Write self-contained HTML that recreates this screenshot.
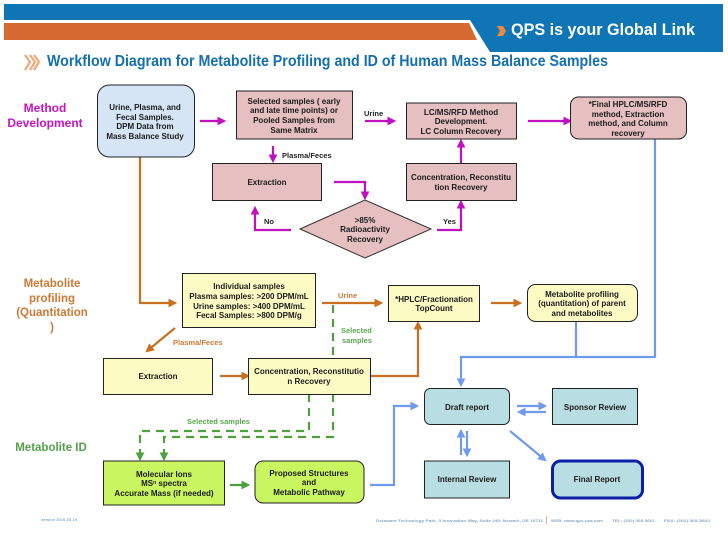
<!DOCTYPE html>
<html><head><meta charset="utf-8"><style>
html,body{margin:0;padding:0;background:#fff}
svg{display:block}
text{font-family:"Liberation Sans",sans-serif}
.n{font-size:8px;font-weight:bold;fill:#1a1a1a;text-anchor:middle}
</style></head><body>
<svg width="728" height="546" viewBox="0 0 728 546" xmlns="http://www.w3.org/2000/svg">
<defs>
<marker id="m" markerWidth="4" markerHeight="4" refX="3" refY="2" orient="auto"><path d="M0 0L4 2L0 4Z" fill="#c010c0"/></marker>
<marker id="o" markerWidth="4" markerHeight="4" refX="3" refY="2" orient="auto"><path d="M0 0L4 2L0 4Z" fill="#c8701f"/></marker>
<marker id="g" markerWidth="4" markerHeight="4" refX="3" refY="2" orient="auto"><path d="M0 0L4 2L0 4Z" fill="#4f9f3f"/></marker>
<marker id="b" markerWidth="4" markerHeight="4" refX="3" refY="2" orient="auto"><path d="M0 0L4 2L0 4Z" fill="#6f9bec"/></marker>
</defs>
<!-- header -->
<path d="M4 4H723V52H490L470 20H4Z" fill="#0f75b5"/>
<path d="M4 23H469L477 40H4Z" fill="#d46a32"/>
<path d="M497 26L503 26L506 31L503 36L497 36L500 31Z" fill="#ee8a3c"/>
<text x="511" y="35" font-size="16.500" font-weight="bold" fill="#fff" textLength="184" lengthAdjust="spacingAndGlyphs">QPS is your Global Link</text>
<path d="M25 55L30 62L25 70M30 55L35 62L30 70M34 55L39 62L34 70" fill="none" stroke="#f0a878" stroke-width="2.2"/>
<text x="47" y="66" font-size="15.500" font-weight="bold" fill="#1470ad" textLength="561" lengthAdjust="spacingAndGlyphs">Workflow Diagram for Metabolite Profiling and ID of Human Mass Balance Samples</text>
<!-- side labels -->
<g font-weight="bold" text-anchor="middle">
<text x="45" y="112" font-size="12" fill="#c414c4">Method</text>
<text x="45" y="127" font-size="12" fill="#c414c4">Development</text>
<text x="52" y="287" font-size="11.5" fill="#cc7a35">Metabolite</text>
<text x="52" y="302" font-size="11.5" fill="#cc7a35">profiling</text>
<text x="52" y="316" font-size="11.5" fill="#cc7a35">(Quantitation</text>
<text x="52" y="331" font-size="11.5" fill="#cc7a35">)</text>
<text x="51" y="451" font-size="11.5" fill="#54a24a">Metabolite ID</text>
</g>
<!-- connectors -->
<g fill="none" stroke-width="2.2">
<g stroke="#c010c0">
<path d="M200 121H224" marker-end="url(#m)"/>
<path d="M273 146V161" marker-end="url(#m)"/>
<path d="M365 121H394" marker-end="url(#m)"/>
<path d="M461 163V141" marker-end="url(#m)"/>
<path d="M528 121H570" marker-end="url(#m)"/>
<path d="M334 182H365V198" marker-end="url(#m)"/>
<path d="M291 230H255V208" marker-end="url(#m)"/>
<path d="M437 230H461V202" marker-end="url(#m)"/>
</g>
<g stroke="#c8701f">
<path d="M140 157V303H175" marker-end="url(#o)"/>
<path d="M322 303H381" marker-end="url(#o)"/>
<path d="M491 303H520" marker-end="url(#o)"/>
<path d="M175 328L147 351" marker-end="url(#o)"/>
<path d="M220 376H248" marker-end="url(#o)"/>
<path d="M371 376H418V323" marker-end="url(#o)"/>
</g>
<g stroke="#4f9f3f">
<path d="M333 305V358" stroke-dasharray="8 6"/>
<path d="M333 394V437H164V450" stroke-dasharray="8 6"/>
<path d="M309 394V431H140V450" stroke-dasharray="8 6"/>
<path d="M140 450V459" marker-end="url(#g)"/>
<path d="M164 450V459" marker-end="url(#g)"/>
<path d="M230 485H248" marker-end="url(#g)"/>
</g>
<g stroke="#6f9bec">
<path d="M655 139V357H461V385" marker-end="url(#b)"/>
<path d="M576 322V357"/>
<path d="M370 485H394V406H417" marker-end="url(#b)"/>
<path d="M517 406H545" marker-end="url(#b)"/>
<path d="M546 412H519" marker-end="url(#b)"/>
<path d="M461 455V431" marker-end="url(#b)"/>
<path d="M467 431V455" marker-end="url(#b)"/>
<path d="M510 431L545 460" marker-end="url(#b)"/>
</g>
</g>
<!-- nodes -->
<g stroke="#222" stroke-width="1">
<rect x="97.500" y="85" width="97" height="72" rx="12" fill="#d5e5f6"/>
<g fill="#e6bfc1">
<rect x="236.500" y="91" width="116" height="48"/>
<rect x="406.500" y="103" width="110" height="36"/>
<rect x="570.500" y="97" width="116" height="42" rx="8"/>
<rect x="212.500" y="163.500" width="109" height="37"/>
<rect x="406.500" y="163.500" width="110" height="37"/>
<path d="M300 229L365 200L431 229L365 258Z" stroke="#333"/>
</g>
<g fill="#fdfbc4">
<rect x="182.500" y="273.500" width="133" height="54"/>
<rect x="388.500" y="285.500" width="91" height="36"/>
<rect x="527.500" y="284.500" width="110" height="37" rx="8"/>
<rect x="103.500" y="358.500" width="109" height="36"/>
<rect x="248.500" y="358.500" width="122" height="36"/>
</g>
<g fill="#c9f560">
<rect x="103.500" y="461" width="121" height="44"/>
<rect x="255" y="461" width="109" height="42" rx="8"/>
</g>
<g fill="#b8dde2">
<rect x="424.500" y="388.500" width="85" height="36" rx="6"/>
<rect x="552.500" y="388.500" width="85" height="36"/>
<rect x="424.500" y="461" width="85" height="37"/>
<rect x="552.500" y="461" width="90" height="37" rx="8" stroke="#0a1ea8" stroke-width="3"/>
</g>
</g>
<!-- node text -->
<text class="n" x="145" y="110">Urine, Plasma, and</text>
<text class="n" x="145" y="120">Fecal Samples.</text>
<text class="n" x="145" y="129">DPM Data from</text>
<text class="n" x="145" y="139">Mass Balance Study</text>
<text class="n" x="294" y="104">Selected samples ( early</text>
<text class="n" x="294" y="113">and late time points) or</text>
<text class="n" x="294" y="123">Pooled  Samples from</text>
<text class="n" x="294" y="133">Same Matrix</text>
<text class="n" x="461" y="115">LC/MS/RFD Method</text>
<text class="n" x="461" y="124">Development.</text>
<text class="n" x="461" y="134">LC Column Recovery</text>
<text class="n" x="628" y="107">*Final HPLC/MS/RFD</text>
<text class="n" x="628" y="117">method, Extraction</text>
<text class="n" x="628" y="126">method, and Column</text>
<text class="n" x="628" y="136">recovery</text>
<text class="n" x="267" y="185">Extraction</text>
<text class="n" x="461" y="180">Concentration, Reconstitu</text>
<text class="n" x="461" y="190">tion Recovery</text>
<text class="n" x="365" y="223">&gt;85%</text>
<text class="n" x="365" y="232">Radioactivity</text>
<text class="n" x="365" y="242">Recovery</text>
<text class="n" x="249" y="289">Individual samples</text>
<text class="n" x="249" y="299">Plasma samples: &gt;200 DPM/mL</text>
<text class="n" x="249" y="309">Urine samples: &gt;400 DPM/mL</text>
<text class="n" x="249" y="318">Fecal Samples: &gt;800 DPM/g</text>
<text class="n" x="434" y="302">*HPLC/Fractionation</text>
<text class="n" x="434" y="311">TopCount</text>
<text class="n" x="582" y="297">Metabolite profiling</text>
<text class="n" x="582" y="306">(quantitation) of parent</text>
<text class="n" x="582" y="316">and metabolites</text>
<text class="n" x="158" y="379">Extraction</text>
<text class="n" x="309" y="374">Concentration, Reconstitutio</text>
<text class="n" x="309" y="384">n Recovery</text>
<text class="n" x="467" y="410">Draft report</text>
<text class="n" x="595" y="410">Sponsor Review</text>
<text class="n" x="467" y="482">Internal Review</text>
<text class="n" x="597" y="482">Final Report</text>
<text class="n" x="164" y="477">Molecular Ions</text>
<text class="n" x="164" y="486">MS<tspan font-size="5" dy="-2">n</tspan><tspan dy="2"> spectra</tspan></text>
<text class="n" x="164" y="496">Accurate Mass (if needed)</text>
<text class="n" x="309" y="476">Proposed Structures</text>
<text class="n" x="309" y="485">and</text>
<text class="n" x="309" y="495">Metabolic Pathway</text>
<!-- connector labels -->
<g font-size="7.500" font-weight="bold">
<text x="282" y="158" fill="#222">Plasma/Feces</text>
<text x="364" y="116" fill="#222">Urine</text>
<text x="264" y="224" fill="#222">No</text>
<text x="443" y="224" fill="#222">Yes</text>
<text x="338" y="298" fill="#cc7a35">Urine</text>
<text x="173" y="345" fill="#cc7a35">Plasma/Feces</text>
<text x="341" y="333" fill="#5aa84f">Selected</text>
<text x="342" y="343" fill="#5aa84f">samples</text>
<text x="187" y="424" fill="#5aa84f">Selected samples</text>
</g>
<!-- footer -->
<text x="41" y="521" font-size="3.500" fill="#2a7ab5" textLength="36">Version 2010.03.19</text>
<text x="376" y="522" font-size="4" font-weight="bold" fill="#8aa8c4" textLength="167" lengthAdjust="spacingAndGlyphs">Delaware Technology Park, 3 Innovation Way, Suite 240, Newark, DE 19711</text>
<rect x="546" y="516" width="1" height="8" fill="#e8b48c"/>
<text x="551" y="522" font-size="4" font-weight="bold" fill="#8aa8c4" textLength="52" lengthAdjust="spacingAndGlyphs">WEB: www.qps-usa.com</text>
<text x="612" y="522" font-size="4" font-weight="bold" fill="#8aa8c4" textLength="43" lengthAdjust="spacingAndGlyphs">TEL: (302) 369-5601</text>
<text x="664" y="522" font-size="4" font-weight="bold" fill="#8aa8c4" textLength="46" lengthAdjust="spacingAndGlyphs">FAX: (302) 369-5602</text>
</svg>
</body></html>
